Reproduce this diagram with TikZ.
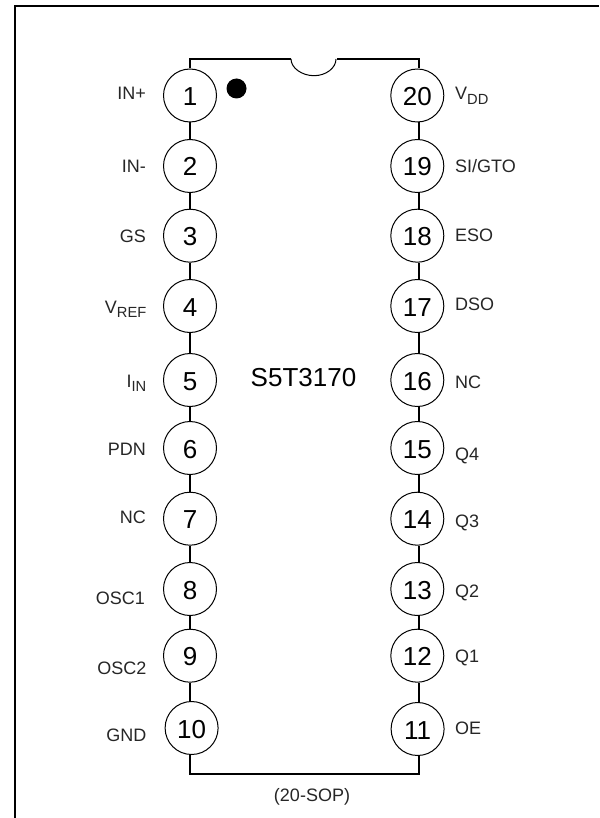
\documentclass[tikz,border=0pt]{standalone}
\usepackage{fontspec}
\setmainfont{Liberation Sans}
\newcommand{\sbt}[1]{\raisebox{-4.5pt}{\fontsize{14.7}{15}\selectfont #1}}
\tikzset{
  pin/.style={circle,draw=black,fill=white,line width=1pt,minimum size=53pt,inner sep=0pt,
    font=\fontsize{26}{28}\selectfont,text height=20pt,text depth=0pt},
  wire/.style={draw=black,line width=2pt},
  notchline/.style={draw=black,line width=1pt},
  frameline/.style={draw=black,line width=2pt},
  lbl/.style={inner sep=0pt,font=\fontsize{18}{20}\selectfont,text=black!85},
  lleft/.style={lbl,anchor=base east},
  lright/.style={lbl,anchor=base west},
  chip/.style={inner sep=0pt,anchor=base,font=\fontsize{26}{28}\selectfont}
}
\begin{document}
\begin{tikzpicture}[x=1pt,y=-1pt]
\useasboundingbox (0,0) rectangle (599,818);
\fill[white] (0,0) rectangle (599,818);
% outer frame
\coordinate (fA) at (14.5,818);
\coordinate (fB) at (14.5,5.8);
\coordinate (fC) at (599,5.8);
\draw[frameline,line join=miter] (fA) -- (fB) -- (fC);
% guide coordinates
\coordinate (wL) at (190,59);
\coordinate (wR) at (419,59);
\coordinate (bL) at (190,774);
\coordinate (bR) at (419,774);
\coordinate (nL) at (291,59);
\coordinate (nR) at (337,59);
\coordinate (nM) at (314,75.7);
% pins
\node[pin] (p1) at (190,95.5) {1};
\node[pin] (p2) at (190,166) {2};
\node[pin] (p3) at (190,235.7) {3};
\node[pin] (p4) at (190,306) {4};
\node[pin] (p5) at (190,380) {5};
\node[pin] (p6) at (190,448) {6};
\node[pin] (p7) at (190,518.7) {7};
\node[pin] (p8) at (190,589) {8};
\node[pin] (p9) at (190,655.7) {9};
\node[pin] (p10) at (191.6,728) {10};
\node[pin] (p20) at (417.3,95.5) {20};
\node[pin] (p19) at (417.3,166) {19};
\node[pin] (p18) at (417.3,235.7) {18};
\node[pin] (p17) at (417.3,306) {17};
\node[pin] (p16) at (417.3,380) {16};
\node[pin] (p15) at (417.3,448) {15};
\node[pin] (p14) at (417.3,518.7) {14};
\node[pin] (p13) at (417.3,589) {13};
\node[pin] (p12) at (417.3,655.7) {12};
\node[pin] (p11) at (417.6,729) {11};
% wires between pins
\foreach \a/\b in {1/2,2/3,3/4,4/5,5/6,6/7,7/8,8/9,9/10}
  \draw[wire] (wL |- p\a.south) -- (wL |- p\b.north);
\foreach \a/\b in {20/19,19/18,18/17,17/16,16/15,15/14,14/13,13/12,12/11}
  \draw[wire] (wR |- p\a.south) -- (wR |- p\b.north);
% package outline
\draw[wire,line join=miter] (wL |- p1.north) -- (wL) -- (nL);
\draw[wire,line join=miter] (nR) -- (wR) -- (wR |- p20.north);
\draw[wire,line join=miter] (wL |- p10.south) -- (bL) -- (bR) -- (wR |- p11.south);
\draw[notchline] (nL) .. controls (291,68) and (302,75.7) .. (nM)
                      .. controls (326,75.7) and (336,68) .. (336,59);
% pin-one marker
\node[circle,fill=black,minimum size=20pt,inner sep=0pt] (dot) at (236.5,88.5) {};
% chip name and package
\node[chip] (name) at (303.5,386.7) {S5T3170};
\node[lbl,anchor=base] (pkg) at (312,801) {(20-SOP)};
% left labels
\node[lleft] (l1) at (146,100) {IN+};
\node[lleft] (l2) at (146,173) {IN-};
\node[lleft] (l3) at (146,242) {GS};
\node[lleft] (l4) at (146.5,313) {V\sbt{REF}};
\node[lleft] (l5) at (146.5,387) {I\sbt{IN}};
\node[lleft] (l6) at (146,455) {PDN};
\node[lleft] (l7) at (146,523) {NC};
\node[lleft] (l8) at (145,604) {OSC1};
\node[lleft] (l9) at (146.5,674) {OSC2};
\node[lleft] (l10) at (146.5,741) {GND};
% right labels
\node[lright] (r20) at (455,100) {V\sbt{DD}};
\node[lright] (r19) at (455,173) {SI/GTO};
\node[lright] (r18) at (455,241.7) {ESO};
\node[lright] (r17) at (455,310) {DSO};
\node[lright] (r16) at (455,388) {NC};
\node[lright] (r15) at (455,460) {Q4};
\node[lright] (r14) at (455,527.7) {Q3};
\node[lright] (r13) at (455,597.7) {Q2};
\node[lright] (r12) at (455,662.7) {Q1};
\node[lright] (r11) at (455,734) {OE};
\end{tikzpicture}
\end{document}
